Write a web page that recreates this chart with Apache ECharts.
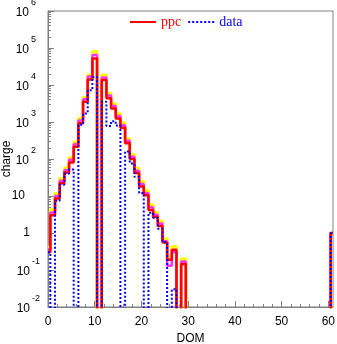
<!DOCTYPE html>
<html><head><meta charset="utf-8">
<script src="https://cdn.jsdelivr.net/npm/echarts@6/dist/echarts.min.js"></script>
<style>html,body{margin:0;padding:0;background:#fff}#c{width:337px;height:344px}</style>
</head><body><div id="c"></div>
<script>
// DOM index (bins centred on integers)
const dom = Array.from({length: 62}, (_, i) => i);
// ppc (red) charge per DOM
const ppc = [0.3,3,8.6,22,43,80,214,930,3500,14000,52000,0,13600,4400,2300,1250,700,265,100,42,18,10.5,4.2,2.7,1.55,0.55,0.19,0.35,0,0.145,
 0,0,0,0,0,0,0,0,0,0,0,0,0,0,0,0,0,0,0,0,0,0,0,0,0,0,0,0,0,0,0,1];
// ppc variation (magenta)
const ppcVarA = [0.35,3.6,10,26,50,95,250,1100,4100,17000,65000,0,16000,5200,2700,1450,820,310,115,48,21,12,5,3.1,1.8,0.6,0.13,0.3,0,0.17,
 0,0,0,0,0,0,0,0,0,0,0,0,0,0,0,0,0,0,0,0,0,0,0,0,0,0,0,0,0,0,0,1];
// ppc variation (yellow)
const ppcVarB = [0.42,4.3,11.8,30,58,110,290,1250,4700,19000,80000,0,18500,6000,3100,1700,950,350,135,56,25,14,5.8,3.6,2.1,0.7,0.23,0.43,0,0.2,
 0,0,0,0,0,0,0,0,0,0,0,0,0,0,0,0,0,0,0,0,0,0,0,0,0,0,0,0,0,0,0,1];
// data (blue dotted)
const dataVals = [0.3,0,7.4,20,40,52,0,840,1700,7200,16500,0,3500,780,1050,800,0,160,76,33,12,0,3.5,2.6,1.3,0.57,0,0.03,0,0,
 0,0,0,0,0,0,0,0,0,0,0,0,0,0,0,0,0,0,0,0,0,0,0,0,0,0,0,0,0,0,0,1];
const xTicks = [0,10,20,30,40,50,60];
const xMinor = [2,4,6,8,12,14,16,18,22,24,26,28,32,34,36,38,42,44,46,48,52,54,56,58];
const yTicks = [0.01,0.1,1,10,100,1000,10000,100000,1000000];
const yMinor = [];
for (let e = -2; e < 6; e++) for (let m = 2; m <= 9; m++) yMinor.push(m * Math.pow(10, e));

const FLOOR = 1e-4; // zero bins drawn below the visible range
const toPts = v => dom.map((d, i) => [d, v[i] > 0 ? v[i] : FLOOR]);

const chart = echarts.init(document.getElementById('c'), null, {renderer: 'canvas'});
const gray = '#808080';
const sans = 'Liberation Sans';
function yLabel(v) {
  const e = Math.round(Math.log10(v));
  if (e === 0) return '{one|1}';
  if (e === 1) return '{ten|10}';
  return '{b|10}{' + (e < 0 ? 'sn' : 's') + '|' + e + '}';
}
const mk = (name, vals, color, width, type) => ({
  name, type: 'line', step: 'middle', symbol: 'none', showSymbol: false,
  data: toPts(vals), clip: true, animation: false, silent: true,
  lineStyle: {color, width, type: type || 'solid'}, itemStyle: {color},
  xAxisIndex: 0, yAxisIndex: 0
});
chart.setOption({
  animation: false,
  grid: {left: 48, right: 4, top: 11, bottom: 37, show: true, borderColor: gray, borderWidth: 1, outerBoundsMode: 'none'},
  legend: {
    left: 129, top: 15, itemWidth: 26, itemHeight: 14, itemGap: 6, padding: 0,
    itemStyle: {opacity: 0, color: 'transparent', borderWidth: 0},
    lineStyle: {width: 2},
    textStyle: {fontFamily: 'Liberation Serif', fontSize: 14},
    data: [
      {name: 'ppc', textStyle: {color: '#ff0000'}},
      {name: 'data', textStyle: {color: '#0000ff'}}
    ]
  },
  xAxis: [{
    type: 'value', min: 0, max: 61, position: 'bottom',
    name: 'DOM', nameLocation: 'middle', nameGap: 26, nameMoveOverlap: false,
    nameTextStyle: {fontFamily: sans, fontSize: 12, color: '#000'},
    axisLine: {lineStyle: {color: gray}},
    axisTick: {inside: true, length: 6, lineStyle: {color: gray}, customValues: xTicks},
    axisLabel: {customValues: xTicks, fontFamily: sans, fontSize: 12, color: '#000', margin: 9},
    splitLine: {show: false}
  }, {
    type: 'value', min: 0, max: 61, position: 'bottom',
    axisLine: {show: false},
    axisTick: {inside: true, length: 3, lineStyle: {color: gray}, customValues: xMinor},
    axisLabel: {show: false}, splitLine: {show: false}
  }],
  yAxis: [{
    type: 'log', logBase: 10, min: 0.01, max: 1000000, position: 'left',
    name: 'charge', nameLocation: 'middle', nameGap: 35, nameRotate: 90, nameMoveOverlap: false,
    nameTextStyle: {fontFamily: sans, fontSize: 12, color: '#000'},
    axisLine: {show: true, lineStyle: {color: gray}},
    axisTick: {inside: true, length: 6, lineStyle: {color: gray}, customValues: yTicks},
    axisLabel: {
      customValues: yTicks, margin: 8, formatter: yLabel, color: '#000',
      rich: {
        b: {fontFamily: sans, fontSize: 12, padding: [3, 0, 0, 0], color: '#000'},
        s: {fontFamily: sans, fontSize: 9, padding: [0, 4, 17, 2], color: '#000'},
        sn: {fontFamily: sans, fontSize: 9, padding: [0, 0, 17, 2], color: '#000'},
        one: {fontFamily: sans, fontSize: 12, padding: [0, 10, 0, 0], color: '#000'},
        ten: {fontFamily: sans, fontSize: 12, padding: [0, 15, 0, 0], color: '#000'}
      }
    },
    splitLine: {show: false}
  }, {
    type: 'log', logBase: 10, min: 0.01, max: 1000000, position: 'left',
    axisLine: {show: false},
    axisTick: {inside: true, length: 3, lineStyle: {color: gray}, customValues: yMinor},
    axisLabel: {show: false}, splitLine: {show: false}
  }],
  series: [
    mk('ppcB', ppcVarB, '#ffff00', 3),
    mk('ppcA', ppcVarA, '#ff33ff', 2.5),
    mk('ppc', ppc, '#ff0000', 2.5),
    mk('data', dataVals, '#0000ff', 2, [2, 2])
  ]
});
</script></body></html>
